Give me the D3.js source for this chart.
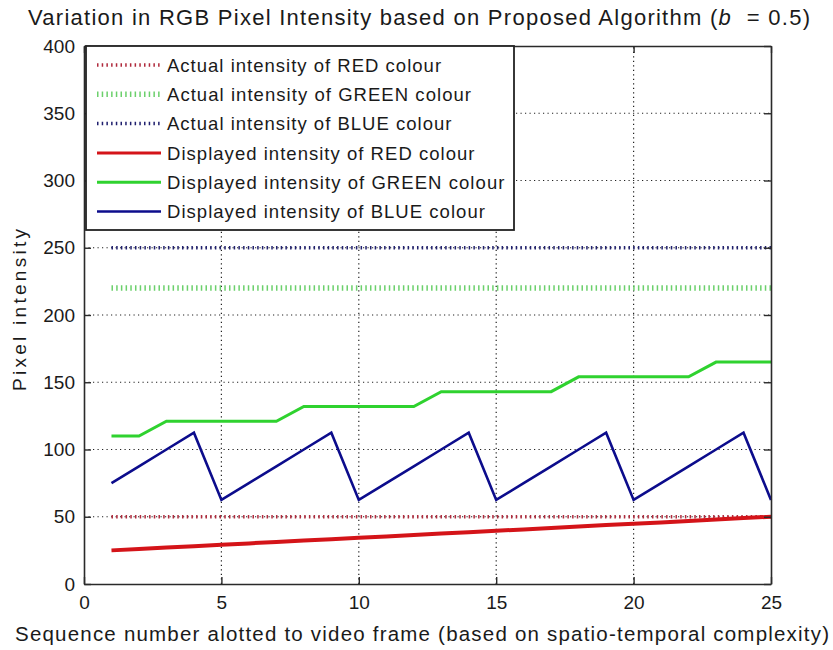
<!DOCTYPE html>
<html>
<head>
<meta charset="utf-8">
<script src="https://cdn.jsdelivr.net/npm/d3@7/dist/d3.min.js"></script>
<style>
  body { margin: 0; background: #fff; }
  svg text { font-family: "Liberation Sans", Arial, sans-serif; fill: #1a1a1a; }
</style>
</head>
<body>
<svg id="chart" width="833" height="650"></svg>
<script>
// Sequence numbers of the video frames
const frames = [1, 2, 3, 4, 5, 6, 7, 8, 9, 10, 11, 12, 13, 14, 15, 16, 17, 18, 19, 20, 21, 22, 23, 24, 25];

// Actual (source) intensity of each colour channel
const actualRed = 50;
const actualGreen = 220;
const actualBlue = 250;

// Displayed intensity per frame
const displayedRed = [25, 26, 27.1, 28.1, 29.2, 30.2, 31.3, 32.3, 33.3, 34.4, 35.4, 36.5, 37.5,
                      38.5, 39.6, 40.6, 41.7, 42.7, 43.8, 44.8, 45.8, 46.9, 47.9, 49, 50];
const displayedGreen = [110, 110, 121, 121, 121, 121, 121, 132, 132, 132, 132, 132, 143,
                        143, 143, 143, 143, 154, 154, 154, 154, 154, 165, 165, 165];
const displayedBlue = [75, 87.5, 100, 112.5, 62.5, 75, 87.5, 100, 112.5, 62.5, 75, 87.5, 100,
                       112.5, 62.5, 75, 87.5, 100, 112.5, 62.5, 75, 87.5, 100, 112.5, 62.5];

// Axis ticks
const xTicks = [0, 5, 10, 15, 20, 25];
const yTicks = [0, 50, 100, 150, 200, 250, 300, 350, 400];

// Legend entries
const legendLabels = [
  "Actual intensity of RED colour",
  "Actual intensity of GREEN colour",
  "Actual intensity of BLUE colour",
  "Displayed intensity of RED colour",
  "Displayed intensity of GREEN colour",
  "Displayed intensity of BLUE colour"
];

const titleText = "Variation in RGB Pixel Intensity based on Proposed Algorithm (";
const xLabel = "Sequence number alotted to video frame (based on spatio-temporal complexity)";
const yLabel = "Pixel intensity";

// ---- drawing ----
const svg = d3.select("#chart");
const plot = { left: 84, top: 46, right: 771, bottom: 584 };

const x = d3.scaleLinear().domain([0, 25]).range([plot.left, plot.right]);
const y = d3.scaleLinear().domain([0, 400]).range([plot.bottom, plot.top]);

const colors = {
  redActual: "#b02a3c",
  greenActual: "#6cd06c",
  blueActual: "#20206e",
  red: "#d41419",
  green: "#2fd22f",
  blue: "#0c0c8c"
};

svg.append("rect").attr("width", 833).attr("height", 650).attr("fill", "#fff");

// dotted grid
const grid = svg.append("g").attr("stroke", "#222").attr("stroke-width", 1.2)
  .attr("stroke-dasharray", "1.2,3.3");
grid.selectAll("line.gx").data(xTicks.slice(1, -1)).join("line")
  .attr("class", "gx")
  .attr("x1", d => x(d)).attr("x2", d => x(d))
  .attr("y1", plot.bottom).attr("y2", plot.top);
grid.selectAll("line.gy").data(yTicks.slice(1, -1)).join("line")
  .attr("class", "gy")
  .attr("x1", plot.left).attr("x2", plot.right)
  .attr("y1", d => y(d)).attr("y2", d => y(d));

// series
const line = d3.line().x((d, i) => x(frames[i])).y(d => y(d));
const flat = v => frames.map(() => v);

const series = [
  { values: flat(actualRed), color: colors.redActual, dotted: true, width: 3.5 },
  { values: flat(actualGreen), color: colors.greenActual, dotted: true, width: 5.5 },
  { values: flat(actualBlue), color: colors.blueActual, dotted: true, width: 3.5 },
  { values: displayedRed, color: colors.red, dotted: false, width: 4 },
  { values: displayedGreen, color: colors.green, dotted: false, width: 3 },
  { values: displayedBlue, color: colors.blue, dotted: false, width: 2.6 }
];

svg.append("g").attr("fill", "none")
  .selectAll("path").data(series).join("path")
  .attr("d", d => line(d.values))
  .attr("stroke", d => d.color)
  .attr("stroke-width", d => d.width)
  .attr("stroke-dasharray", d => d.dotted ? "1.5,3.2" : null)
  .attr("stroke-linejoin", "miter");

// axes box with inward ticks on all four sides
const tickLen = 7;
const axBottom = d3.axisBottom(x).tickValues(xTicks).tickSizeInner(-tickLen).tickSizeOuter(0).tickPadding(12);
const axTop = d3.axisTop(x).tickValues(xTicks).tickSizeInner(-tickLen).tickSizeOuter(0).tickFormat("");
const axLeft = d3.axisLeft(y).tickValues(yTicks).tickSizeInner(-tickLen).tickSizeOuter(0).tickPadding(9);
const axRight = d3.axisRight(y).tickValues(yTicks).tickSizeInner(-tickLen).tickSizeOuter(0).tickFormat("");

function styleAxis(g) {
  g.select(".domain").attr("stroke", "#2a2a2a").attr("stroke-width", 1.6);
  g.selectAll(".tick line").attr("stroke", "#2a2a2a").attr("stroke-width", 1.4);
  g.selectAll(".tick text").attr("fill", "#1a1a1a").attr("font-size", 19)
    .attr("font-family", "Liberation Sans, Arial, sans-serif");
}
svg.append("g").attr("transform", `translate(0,${plot.bottom})`).call(axBottom).call(styleAxis);
svg.append("g").attr("transform", `translate(0,${plot.top})`).call(axTop).call(styleAxis);
svg.append("g").attr("transform", `translate(${plot.left},0)`).call(axLeft).call(styleAxis);
svg.append("g").attr("transform", `translate(${plot.right},0)`).call(axRight).call(styleAxis);

// legend
const legend = svg.append("g");
const lgBox = { x: 86, y: 46, w: 428, h: 184 };
legend.append("rect")
  .attr("x", lgBox.x).attr("y", lgBox.y).attr("width", lgBox.w).attr("height", lgBox.h)
  .attr("fill", "#fff").attr("stroke", "#222").attr("stroke-width", 1.8);
const rowY = i => 65 + i * 29.3;
legendLabels.forEach((label, i) => {
  const s = series[i];
  legend.append("line")
    .attr("x1", 97).attr("x2", 161).attr("y1", rowY(i)).attr("y2", rowY(i))
    .attr("stroke", s.color)
    .attr("stroke-width", s.dotted ? s.width : Math.min(s.width, 3))
    .attr("stroke-dasharray", s.dotted ? "1.5,3.2" : null);
  const t = legend.append("text")
    .attr("x", 167).attr("y", rowY(i)).attr("dy", "0.36em")
    .attr("font-size", 18.5)
    .text(label);
  // the legend lettering is set a little wider than the font's natural advance
  const natural = t.node().getComputedTextLength();
  t.attr("textLength", natural * 1.12).attr("lengthAdjust", "spacing");
});

// title with italic b, laid out from its left edge
const title = svg.append("text")
  .attr("x", 28).attr("y", 25).attr("text-anchor", "start").attr("font-size", 22)
  .attr("textLength", 782).attr("lengthAdjust", "spacing");
title.append("tspan").text(titleText);
title.append("tspan").attr("font-style", "italic").text("b");
title.append("tspan").text("\u00a0 = 0.5)");

// axis labels
svg.append("text")
  .attr("x", 422).attr("y", 641).attr("text-anchor", "middle").attr("font-size", 20.5)
  .attr("textLength", 814).attr("lengthAdjust", "spacing")
  .text(xLabel);
svg.append("text")
  .attr("transform", "translate(26,310) rotate(-90)")
  .attr("text-anchor", "middle").attr("font-size", 19)
  .attr("textLength", 162).attr("lengthAdjust", "spacing")
  .text(yLabel);
</script>
</body>
</html>
